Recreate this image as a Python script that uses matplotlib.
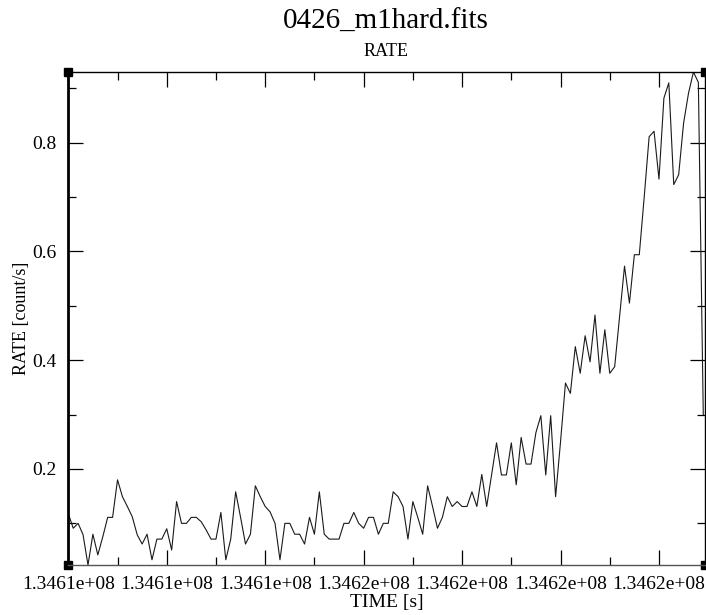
import numpy as np
import matplotlib
matplotlib.use('Agg')
import matplotlib.pyplot as plt
from matplotlib.ticker import MultipleLocator, FuncFormatter

plt.rcParams['font.family'] = ['Liberation Serif', 'DejaVu Serif']

# light curve: 100 s bins
time_start = 134610000.0
bin_width = 100.0
rate = [
    0.118, 0.091, 0.100, 0.079, 0.0234, 0.080, 0.042, 0.075, 0.111, 0.111,
    0.180, 0.149, 0.131, 0.112, 0.079, 0.062, 0.080, 0.033, 0.071, 0.071,
    0.090, 0.051, 0.140, 0.100, 0.100, 0.111, 0.111, 0.103, 0.088, 0.071,
    0.071, 0.120, 0.033, 0.071, 0.158, 0.111, 0.062, 0.080, 0.169, 0.149,
    0.131, 0.121, 0.100, 0.033, 0.100, 0.100, 0.080, 0.080, 0.062, 0.111,
    0.080, 0.158, 0.080, 0.071, 0.071, 0.071, 0.100, 0.100, 0.120, 0.100,
    0.091, 0.111, 0.111, 0.080, 0.100, 0.100, 0.158, 0.149, 0.131, 0.071,
    0.140, 0.111, 0.080, 0.169, 0.131, 0.091, 0.111, 0.149, 0.131, 0.140,
    0.131, 0.131, 0.158, 0.131, 0.190, 0.131, 0.190, 0.248, 0.189, 0.189,
    0.248, 0.171, 0.258, 0.209, 0.209, 0.267, 0.298, 0.189, 0.298, 0.149,
    0.250, 0.358, 0.339, 0.425, 0.376, 0.445, 0.397, 0.483, 0.376, 0.456,
    0.376, 0.388, 0.480, 0.573, 0.505, 0.594, 0.594, 0.700, 0.811, 0.821,
    0.733, 0.882, 0.910, 0.723, 0.741, 0.836, 0.891, 0.930, 0.911, 0.300,
]

title = "0426_m1hard.fits"
subtitle = "RATE"
xlabel = "TIME [s]"
ylabel = "RATE [count/s]"

rate = np.array(rate)
time = time_start + bin_width * np.arange(len(rate))

fig = plt.figure(figsize=(7.06, 6.15), dpi=100)
ax = fig.add_axes([68 / 706, 1 - 565 / 615, 637 / 706, 493 / 615])

ax.plot(time, rate, color='#1a1a1a', lw=0.8)

ax.set_xlim(time[0] - 6, time[-1] + 35)
ax.set_ylim(rate.min(), rate.max())

ax.xaxis.set_major_locator(MultipleLocator(2000))
ax.xaxis.set_minor_locator(MultipleLocator(1000))
ax.xaxis.set_major_formatter(FuncFormatter(lambda v, p: f"{v:.4e}"))
ax.yaxis.set_major_locator(MultipleLocator(0.2))
ax.yaxis.set_minor_locator(MultipleLocator(0.1))
ax.yaxis.set_major_formatter(FuncFormatter(lambda v, p: f"{v:.1f}"))

ax.tick_params(which='both', direction='in', top=True, right=True,
               labelsize=14, colors='black')
ax.tick_params(which='major', length=11, width=0.9, pad=8)
ax.tick_params(which='minor', length=6, width=0.9)

for s in ax.spines.values():
    s.set_linewidth(1.0)
ax.spines['left'].set_linewidth(2.0)
ax.spines['bottom'].set_color('#555555')

# corner handles
ax.plot([0, 0, 1, 1], [0, 1, 0, 1], 's', color='black', ms=6,
        transform=ax.transAxes, clip_on=False)

ax.set_xlabel(xlabel, fontsize=14, labelpad=1)
ax.set_ylabel(ylabel, fontsize=13, labelpad=2)

fig.text(386 / 706, 1 - 22 / 615, title, fontsize=21, ha='center', va='center')
fig.text(386 / 706, 1 - 52 / 615, subtitle, fontsize=13, ha='center', va='center')

fig.savefig('out.png', dpi=100)
